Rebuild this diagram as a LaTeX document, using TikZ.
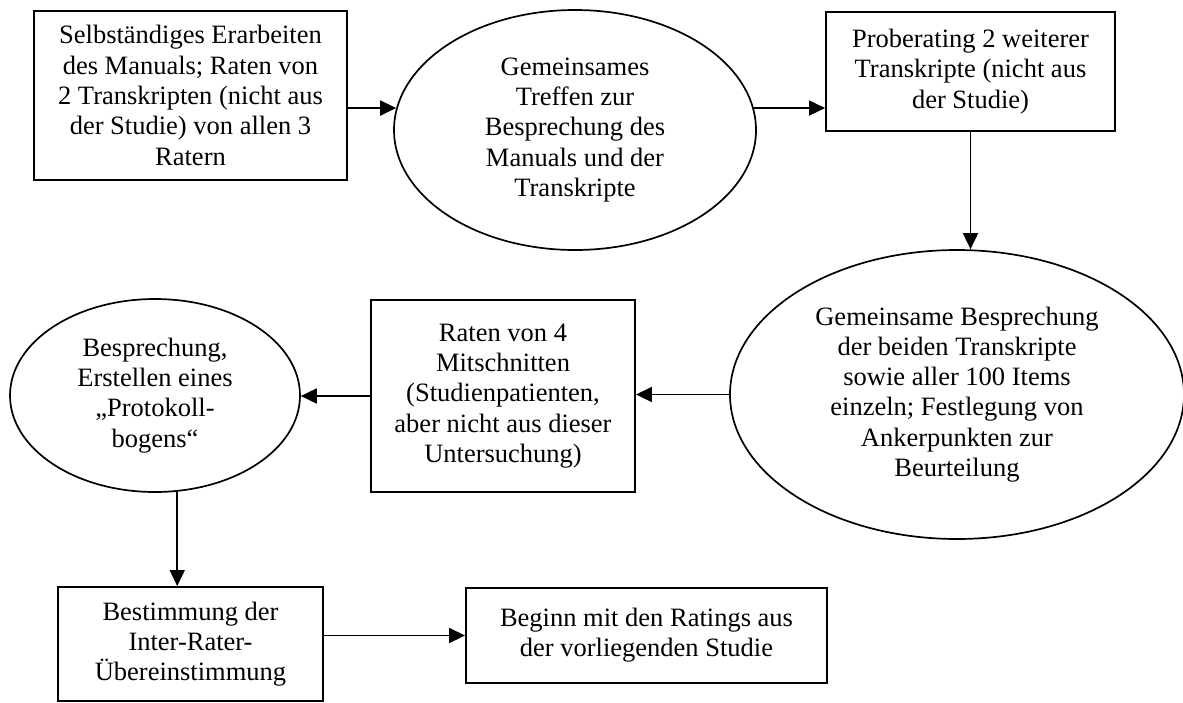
\documentclass[tikz,border=0pt]{standalone}
\usepackage{fontspec}
\setmainfont{Liberation Serif}
\usetikzlibrary{shapes.geometric,arrows.meta}
\begin{document}
\begin{tikzpicture}[x=1pt,y=-1pt,
  every node/.style={font=\fontsize{26.5}{30.3}\selectfont, align=center, inner sep=0pt},
  stepbox/.style={draw, line width=1.9pt, rectangle},
  stepell/.style={draw, line width=1.7pt, ellipse},
  conn/.style={line width=1.8pt, -{Triangle[length=16pt,width=15pt]}}]
\useasboundingbox (0,0) rectangle (1183,702);
\node[stepbox, minimum width=313pt, minimum height=169pt] (b1) at (190.5,95.5)
  {Selbständiges Erarbeiten\\des Manuals; Raten von\\2 Transkripten (nicht aus\\der Studie) von allen 3\\Ratern};
\node[stepell, minimum width=362pt, minimum height=240pt] (e1) at (575,130)
  {Gemeinsames\\Treffen zur\\Besprechung des\\Manuals und der\\Transkripte};
\node[stepbox, minimum width=289pt, minimum height=119pt] (b3) at (970.5,71.5)
  {Proberating 2 weiterer\\Transkripte (nicht aus\\der Studie)};
\node[stepell, minimum width=454pt, minimum height=289pt] (e2) at (957,394.5)
  {Gemeinsame Besprechung\\der beiden Transkripte\\sowie aller 100 Items\\einzeln; Festlegung von\\Ankerpunkten zur\\Beurteilung};
\node[stepbox, minimum width=264pt, minimum height=192pt] (b4) at (503,396)
  {Raten von 4\\Mitschnitten\\(Studienpatienten,\\aber nicht aus dieser\\Untersuchung)};
\node[stepell, minimum width=290pt, minimum height=193pt] (e3) at (155,395.5)
  {Besprechung,\\Erstellen eines\\„Protokoll-\\bogens“};
\node[stepbox, minimum width=265pt, minimum height=114pt] (b5) at (190.5,644)
  {Bestimmung der\\Inter-Rater-\\Übereinstimmung};
\node[stepbox, minimum width=361pt, minimum height=95pt] (b6) at (646.5,635.5)
  {Beginn mit den Ratings aus\\der vorliegenden Studie};
\draw[conn] (b1.east |- e1.173) -- (e1.173);
\draw[conn] (e1.7) -- (e1.7 -| b3.west);
\draw[conn] (b3.south) -- (b3.south |- e2.north);
\draw[conn] (e2.west) -- (e2.west -| b4.east);
\draw[conn] (b4.west) -- (b4.west -| e3.east);
\draw[conn] (e3.283.6) -- (e3.283.6 |- b5.north);
\draw[conn] (b5.east |- b6.west) -- (b6.west);
\end{tikzpicture}
\end{document}
